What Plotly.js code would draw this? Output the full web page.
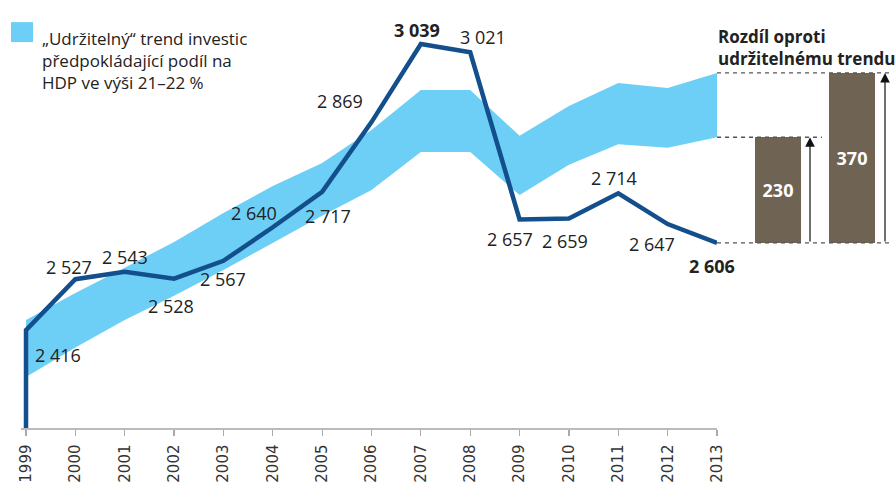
<!DOCTYPE html>
<html>
<head>
<meta charset="utf-8">
<script src="https://cdn.plot.ly/plotly-3.0.1.min.js"></script>
<style>html,body{margin:0;padding:0;background:#fff;}#chart{width:896px;height:482px;}</style>
</head>
<body>
<div id="chart"></div>
<script>
// ---- data ----
const years = [1999,2000,2001,2002,2003,2004,2005,2006,2007,2008,2009,2010,2011,2012,2013];
const investment = [2416,2527,2543,2528,2567,2640,2717,2869,3039,3021,2657,2659,2714,2647,2606];
const trendLow  = [2314,2378,2438,2491,2547,2606,2665,2721,2804,2804,2710,2776,2821,2813,2836];
const trendHigh = [2438,2497,2552,2608,2671,2730,2780,2852,2939,2939,2839,2904,2954,2943,2976];
const gapValues = [230, 370];
const gapLabels = ['230', '370'];
const boldYears = [2007, 2013];
const legendLines = ['„Udržitelný“ trend investic', 'předpokládající podíl na', 'HDP ve výši 21–22 %'];
const gapTitle = ['Rozdíl oproti', 'udržitelnému trendu'];
const axisMin = 2203, axisMax = 3113;

// ---- styling / positions ----
const labelShift = { // [xshift, yshift] in px
  1999:[32,-25], 2000:[-6,12], 2001:[0,15], 2002:[-3,-27], 2003:[0,-18],
  2004:[-19,14], 2005:[6,-24], 2006:[-32,21], 2007:[-4,14], 2008:[13,15],
  2009:[-10,-20], 2010:[-4,-22], 2011:[-4,15], 2012:[-16,-20], 2013:[-5,-23]
};
const W = 896, H = 482;
const fmt = v => String(v).replace(/\B(?=(\d{3})+(?!\d))/g, '\u00a0');
const FONT = '"Open Sans", sans-serif';
const lastVal = investment[investment.length - 1];

const traces = [
  {x: years, y: trendLow, type:'scatter', mode:'lines', line:{width:0, color:'#6dcff6'}, hoverinfo:'skip', showlegend:false},
  {x: years, y: trendHigh, type:'scatter', mode:'lines', line:{width:0, color:'#6dcff6'}, fill:'tonexty', fillcolor:'#6dcff6', hoverinfo:'skip', showlegend:false},
  {x: [years[0]].concat(years), y: [axisMin].concat(investment), type:'scatter', mode:'lines',
   line:{color:'#124f8c', width:4.5, shape:'linear'}, showlegend:false},
  {x: [61, 135], y: gapValues, base: [lastVal, lastVal], type:'bar', xaxis:'x2', yaxis:'y',
   width: 46, marker:{color:'#6f6353'}, text: gapLabels, textposition:'inside', insidetextanchor:'middle',
   textfont:{family:FONT, size:18, color:'#ffffff', weight:'bold'}, showlegend:false, hoverinfo:'skip'}
];

const annotations = [];
years.forEach((yr, i) => {
  const s = labelShift[yr];
  const bold = boldYears.includes(yr);
  annotations.push({x: yr, y: investment[i], xref:'x', yref:'y', text: bold ? '<b>'+fmt(investment[i])+'</b>' : fmt(investment[i]),
    showarrow:false, xshift:s[0], yshift:s[1], font:{family:FONT, size:18, color:'#222'}});
});
annotations.push({x: 40/W, y: 1 - 17/H, xref:'paper', yref:'paper', xanchor:'left', yanchor:'top', align:'left',
  text: legendLines.join('<br>'), showarrow:false, font:{family:FONT, size:17, color:'#222'}});
annotations.push({x: 716/W, y: 1 - 15/H, xref:'paper', yref:'paper', xanchor:'left', yanchor:'top', align:'left',
  text: gapTitle.map(t => '<b>'+t+'</b>').join('<br>'), showarrow:false, font:{family:FONT, size:17, color:'#222'}});
[93, 168].forEach((ax, i) => {
  annotations.push({x: ax, y: lastVal + gapValues[i], xref:'x2', yref:'y', ax: ax, ay: lastVal, axref:'x2', ayref:'y',
    text:'', showarrow:true, arrowhead:2, arrowsize:1.6, arrowwidth:1.2, arrowcolor:'#111', standoff:0});
});

const shapes = [
  {type:'rect', xref:'paper', yref:'paper', x0:11/W, x1:33/W, y0:1-37/H, y1:1-14/H, fillcolor:'#6dcff6', line:{width:0}},
  {type:'line', xref:'x2', yref:'y', x0:0, x1:176, y0:trendHigh[14], y1:trendHigh[14], line:{color:'#555', width:1.3, dash:'4px,4px'}},
  {type:'line', xref:'x2', yref:'y', x0:0, x1:105, y0:trendLow[14], y1:trendLow[14], line:{color:'#555', width:1.3, dash:'4px,4px'}},
  {type:'line', xref:'x2', yref:'y', x0:0, x1:176, y0:lastVal, y1:lastVal, line:{color:'#555', width:1.3, dash:'4px,4px'}}
];

const layout = {
  width: W, height: H,
  margin: {l:0, r:0, t:10, b:54},
  paper_bgcolor:'#fff', plot_bgcolor:'rgba(0,0,0,0)',
  showlegend:false,
  xaxis: {domain:[(26 - 0.1*49.357)/W, 717/W], range:[1998.9, 2013], tickvals: years, ticktext: years.map(String),
    tickangle:-90, ticks:'outside', ticklen:6, tickcolor:'#aaa', tickwidth:1.2, ticklabelstandoff:3,
    showline:true, linecolor:'#bbb', linewidth:1.5, showgrid:false, zeroline:false,
    tickfont:{family:'"DejaVu Sans", sans-serif', size:15, color:'#333'}, fixedrange:true},
  xaxis2: {domain:[717/W, 1], range:[0, 179], anchor:'y', visible:false, showgrid:false, zeroline:false},
  yaxis: {range:[axisMin, axisMax], visible:false, showgrid:false, zeroline:false},
  annotations, shapes,
  bargap:0
};

Plotly.newPlot('chart', traces, layout, {staticPlot:true, displayModeBar:false});
</script>
</body>
</html>
